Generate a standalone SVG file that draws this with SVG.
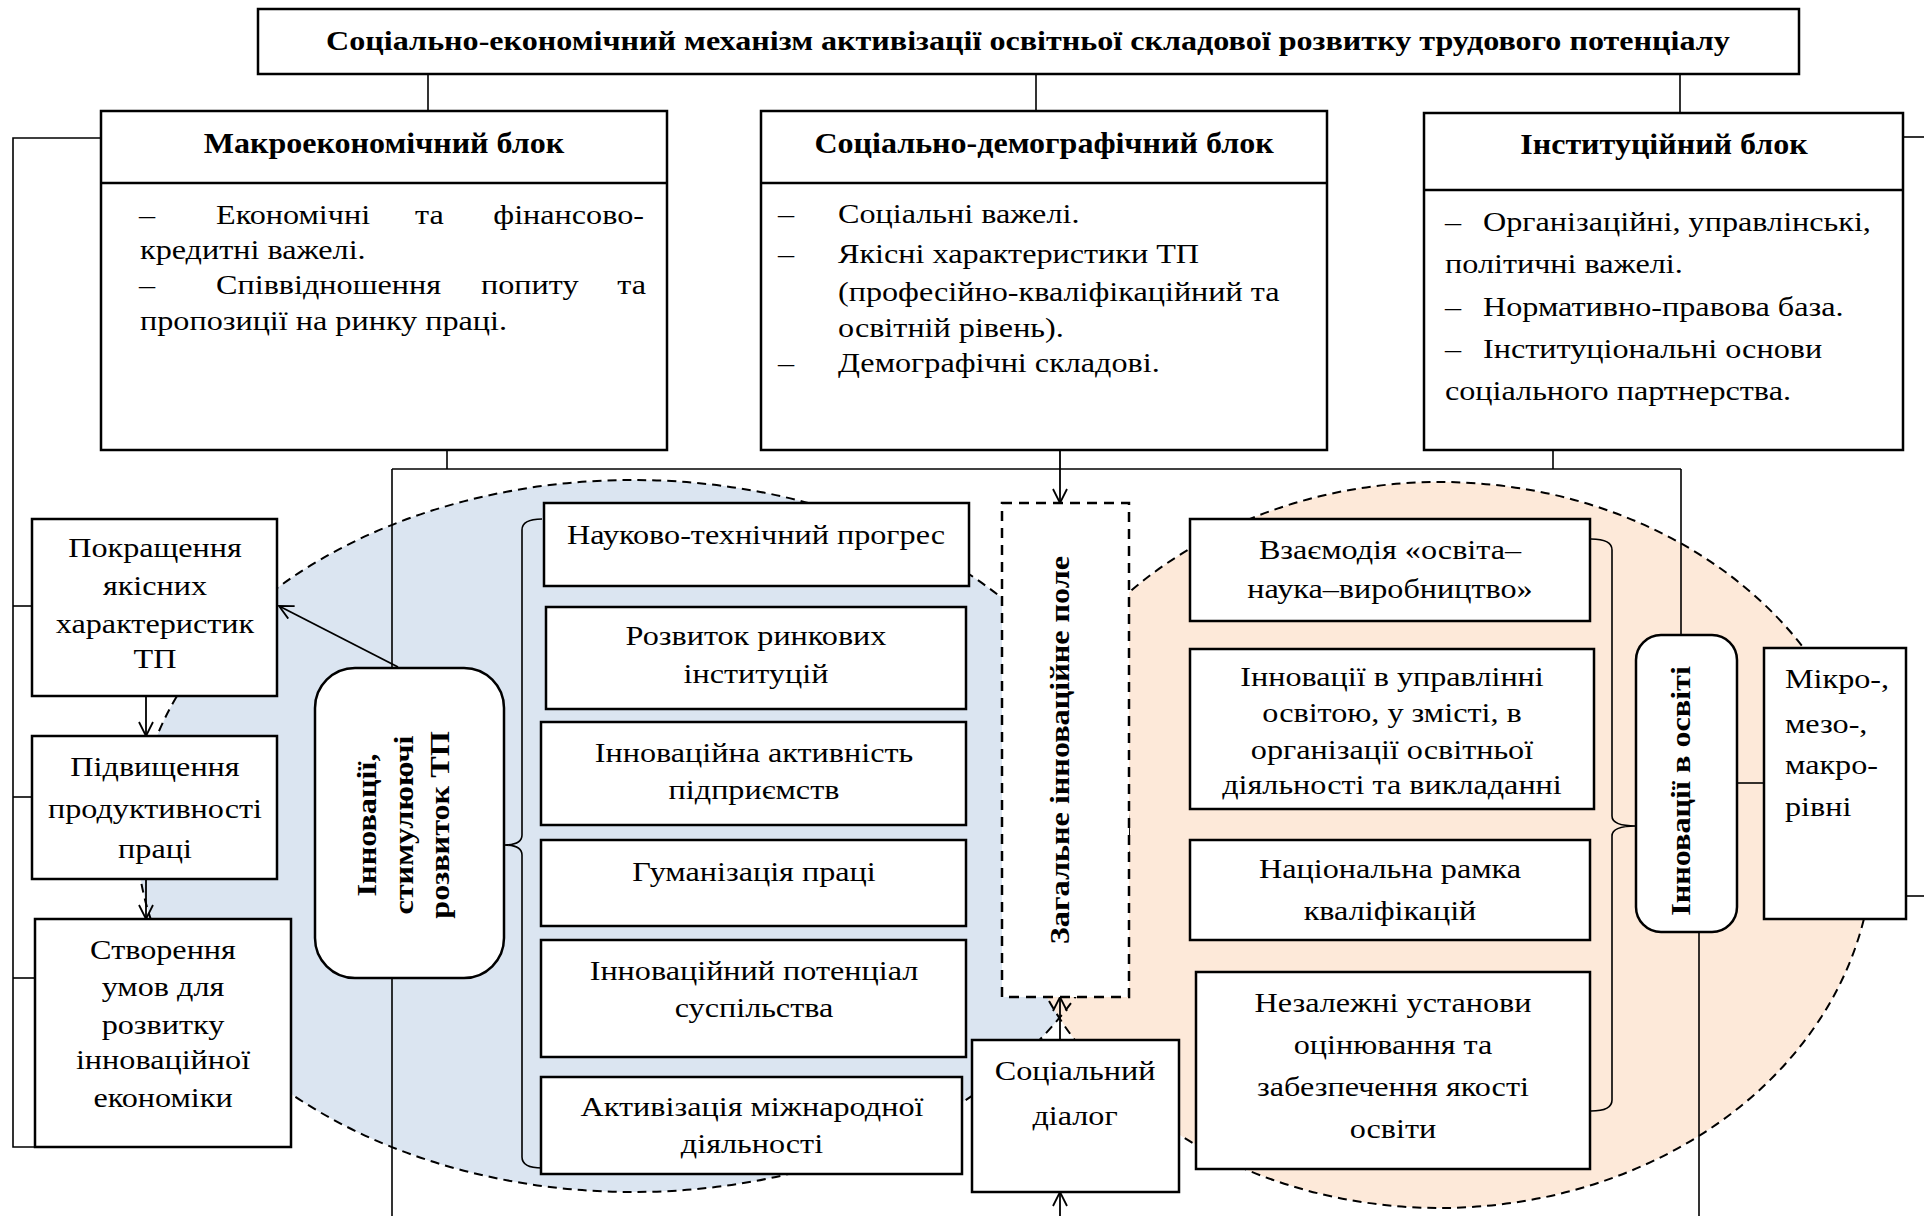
<svg xmlns="http://www.w3.org/2000/svg" width="1924" height="1216" viewBox="0 0 1924 1216">
<style>
.bx{fill:#fff;stroke:#000;stroke-width:2.5}
.ln{stroke:#000;stroke-width:1.6;fill:none}
.ar{stroke:#000;stroke-width:1.8;fill:none;marker-end:url(#ah)}
.t{font-family:'Liberation Serif','Times New Roman',serif;font-size:28px;fill:#000}
.h{font-size:29px;font-weight:bold}
.tt{font-size:27px;font-weight:bold}
.b{font-weight:bold}
.c{text-anchor:middle}
.e{text-anchor:end}
.ell{fill:none;stroke:#000;stroke-width:2;stroke-dasharray:9 6}
</style>
<defs>
<marker id="ah" viewBox="0 0 16 16" refX="15" refY="8" markerWidth="16" markerHeight="16" markerUnits="userSpaceOnUse" orient="auto">
<path d="M1,1 L15,8 L1,15" fill="none" stroke="#000" stroke-width="1.8"/>
</marker>
</defs>
<rect width="1924" height="1216" fill="#fff"/>
<g id="fields">
<ellipse cx="633" cy="836" rx="496" ry="356" fill="#dbe5f1"/>
<ellipse cx="1440" cy="845" rx="433" ry="363" fill="#fde9d9"/>
<ellipse class="ell" cx="633" cy="836" rx="496" ry="356"/>
<ellipse class="ell" cx="1440" cy="845" rx="433" ry="363"/>
</g>
<g id="connectors">
<line class="ln" x1="428" y1="74" x2="428" y2="112"/>
<line class="ln" x1="1036" y1="74" x2="1036" y2="112"/>
<line class="ln" x1="1680" y1="74" x2="1680" y2="113"/>
<line class="ln" x1="1903" y1="137" x2="1924" y2="137"/>
<line class="ln" x1="1906" y1="896" x2="1924" y2="896"/>
<polyline class="ln" points="101,138 13,138 13,1147 35,1147"/>
<line class="ln" x1="13" y1="606" x2="32" y2="606"/>
<line class="ln" x1="13" y1="797" x2="32" y2="797"/>
<line class="ln" x1="13" y1="978" x2="35" y2="978"/>
<line class="ln" x1="447" y1="450" x2="447" y2="469"/>
<line class="ln" x1="1553" y1="450" x2="1553" y2="469"/>
<line class="ln" x1="392" y1="469" x2="1681" y2="469"/>
<line class="ln" x1="392" y1="469" x2="392" y2="668"/>
<line class="ln" x1="392" y1="978" x2="392" y2="1216"/>
<line class="ln" x1="1681" y1="469" x2="1681" y2="635"/>
<line class="ln" x1="1699" y1="932" x2="1699" y2="1216"/>
<line class="ln" x1="1737" y1="783" x2="1764" y2="783"/>
<line class="ar" x1="1060" y1="450" x2="1060" y2="503"/>
<line class="ar" x1="1060" y1="1040" x2="1060" y2="997"/>
<line class="ar" x1="1060" y1="1216" x2="1060" y2="1192"/>
<line class="ar" x1="146" y1="696" x2="146" y2="736"/>
<line class="ar" x1="146" y1="879" x2="146" y2="919"/>
<line class="ar" x1="398" y1="667" x2="279" y2="606"/>
<path class="ln" d="M542,519 Q522,519 522,530 L522,835 Q522,845 504,845 Q522,845 522,855 L522,1157 Q522,1168 542,1168"/>
<path class="ln" d="M1591,539 Q1612,539 1612,550 L1612,816 Q1612,826 1636,826 Q1612,826 1612,836 L1612,1100 Q1612,1111 1591,1111"/>
</g>
<g id="title">
<rect class="bx" x="258" y="9" width="1541" height="65"/>
<text class="t tt c" transform="translate(1028 0) scale(1.19 1)" x="0" y="50">Соціально-економічний механізм активізації освітньої складової розвитку трудового потенціалу</text>
</g>
<g id="macro">
<rect class="bx" x="101" y="111" width="566" height="339"/>
<line class="bx" x1="101" y1="183" x2="667" y2="183"/>
<text class="t h c" transform="translate(384 0) scale(1.105 1)" x="0" y="153">Макроекономічний блок</text>
<text class="t" transform="translate(139 0) scale(1.15 1)" x="0" y="224">–</text>
<text class="t" transform="translate(216 0) scale(1.15 1)" x="0" y="224">Економічні</text>
<text class="t" transform="translate(415 0) scale(1.15 1)" x="0" y="224">та</text>
<text class="t e" transform="translate(644 0) scale(1.15 1)" x="0" y="224">фінансово-</text>
<text class="t" transform="translate(140 0) scale(1.15 1)" x="0" y="259">кредитні важелі.</text>
<text class="t" transform="translate(139 0) scale(1.15 1)" x="0" y="294">–</text>
<text class="t" transform="translate(216 0) scale(1.15 1)" x="0" y="294">Співвідношення</text>
<text class="t" transform="translate(481 0) scale(1.15 1)" x="0" y="294">попиту</text>
<text class="t e" transform="translate(646 0) scale(1.15 1)" x="0" y="294">та</text>
<text class="t" transform="translate(140 0) scale(1.15 1)" x="0" y="330">пропозиції на ринку праці.</text>
</g>
<g id="sociodemo">
<rect class="bx" x="761" y="111" width="566" height="339"/>
<line class="bx" x1="761" y1="183" x2="1327" y2="183"/>
<text class="t h c" transform="translate(1044 0) scale(1.105 1)" x="0" y="153">Соціально-демографічний блок</text>
<text class="t" transform="translate(778 0) scale(1.15 1)"><tspan x="0" y="223">–</tspan><tspan x="0" y="263">–</tspan><tspan x="0" y="372">–</tspan></text>
<text class="t" transform="translate(838 0) scale(1.15 1)"><tspan x="0" y="223">Соціальні важелі.</tspan><tspan x="0" y="263">Якісні характеристики ТП</tspan><tspan x="0" y="301">(професійно-кваліфікаційний та</tspan><tspan x="0" y="337">освітній рівень).</tspan><tspan x="0" y="372">Демографічні складові.</tspan></text>
</g>
<g id="institutional">
<rect class="bx" x="1424" y="113" width="479" height="337"/>
<line class="bx" x1="1424" y1="190" x2="1903" y2="190"/>
<text class="t h c" transform="translate(1664 0) scale(1.105 1)" x="0" y="154">Інституційний блок</text>
<text class="t" transform="translate(1445 0) scale(1.15 1)"><tspan x="0" y="231">–</tspan><tspan x="0" y="273">політичні важелі.</tspan><tspan x="0" y="316">–</tspan><tspan x="0" y="358">–</tspan><tspan x="0" y="400">соціального партнерства.</tspan></text>
<text class="t" transform="translate(1483 0) scale(1.15 1)"><tspan x="0" y="231">Організаційні, управлінські,</tspan><tspan x="0" y="316">Нормативно-правова база.</tspan><tspan x="0" y="358">Інституціональні основи</tspan></text>
</g>
<g id="improve">
<rect class="bx" x="32" y="519" width="245" height="177"/>
<text class="t c" transform="translate(155 0) scale(1.15 1)"><tspan x="0" y="557">Покращення</tspan><tspan x="0" y="595">якісних</tspan><tspan x="0" y="633">характеристик</tspan><tspan x="0" y="668">ТП</tspan></text>
</g>
<g id="productivity">
<rect class="bx" x="32" y="736" width="245" height="143"/>
<text class="t c" transform="translate(155 0) scale(1.15 1)"><tspan x="0" y="776">Підвищення</tspan><tspan x="0" y="818">продуктивності</tspan><tspan x="0" y="858">праці</tspan></text>
</g>
<g id="economy">
<rect class="bx" x="35" y="919" width="256" height="228"/>
<text class="t c" transform="translate(163 0) scale(1.15 1)"><tspan x="0" y="959">Створення</tspan><tspan x="0" y="996">умов для</tspan><tspan x="0" y="1034">розвитку</tspan><tspan x="0" y="1069">інноваційної</tspan><tspan x="0" y="1107">економіки</tspan></text>
</g>
<g id="innov-tp">
<rect class="bx" x="315" y="668" width="189" height="310" rx="40"/>
<text class="t b c" transform="translate(376 825) rotate(-90) scale(1.15 1)" x="0" y="0">Інновації,</text>
<text class="t b c" transform="translate(413 825) rotate(-90) scale(1.15 1)" x="0" y="0">стимулюючі</text>
<text class="t b c" transform="translate(449 825) rotate(-90) scale(1.15 1)" x="0" y="0">розвиток ТП</text>
</g>
<g id="ntp">
<rect class="bx" x="544" y="503" width="425" height="83"/>
<text class="t c" transform="translate(756 0) scale(1.15 1)" x="0" y="544">Науково-технічний прогрес</text>
</g>
<g id="market">
<rect class="bx" x="546" y="607" width="420" height="102"/>
<text class="t c" transform="translate(756 0) scale(1.15 1)"><tspan x="0" y="645">Розвиток ринкових</tspan><tspan x="0" y="683">інституцій</tspan></text>
</g>
<g id="enterprise">
<rect class="bx" x="541" y="722" width="425" height="103"/>
<text class="t c" transform="translate(754 0) scale(1.15 1)"><tspan x="0" y="762">Інноваційна активність</tspan><tspan x="0" y="799">підприємств</tspan></text>
</g>
<g id="human">
<rect class="bx" x="541" y="840" width="425" height="86"/>
<text class="t c" transform="translate(754 0) scale(1.15 1)" x="0" y="881">Гуманізація праці</text>
</g>
<g id="potential">
<rect class="bx" x="541" y="940" width="425" height="117"/>
<text class="t c" transform="translate(754 0) scale(1.15 1)"><tspan x="0" y="980">Інноваційний потенціал</tspan><tspan x="0" y="1017">суспільства</tspan></text>
</g>
<g id="international">
<rect class="bx" x="541" y="1077" width="421" height="97"/>
<text class="t c" transform="translate(752 0) scale(1.15 1)"><tspan x="0" y="1116">Активізація міжнародної</tspan><tspan x="0" y="1153">діяльності</tspan></text>
</g>
<g id="field">
<rect class="bx" x="1002" y="503" width="127" height="494" stroke-dasharray="10 7"/>
<text class="t b c" transform="translate(1069 750) rotate(-90) scale(1.15 1)" x="0" y="0">Загальне інноваційне поле</text>
</g>
<g id="dialog">
<rect class="bx" x="972" y="1040" width="207" height="152"/>
<text class="t c" transform="translate(1075 0) scale(1.15 1)"><tspan x="0" y="1080">Соціальний</tspan><tspan x="0" y="1125">діалог</tspan></text>
</g>
<g id="ens">
<rect class="bx" x="1190" y="519" width="400" height="102"/>
<text class="t c" transform="translate(1390 0) scale(1.15 1)"><tspan x="0" y="559">Взаємодія «освіта–</tspan><tspan x="0" y="598">наука–виробництво»</tspan></text>
</g>
<g id="mgmt">
<rect class="bx" x="1190" y="649" width="404" height="160"/>
<text class="t c" transform="translate(1392 0) scale(1.15 1)"><tspan x="0" y="686">Інновації в управлінні</tspan><tspan x="0" y="722">освітою, у змісті, в</tspan><tspan x="0" y="759">організації освітньої</tspan><tspan x="0" y="794">діяльності та викладанні</tspan></text>
</g>
<g id="nqf">
<rect class="bx" x="1190" y="840" width="400" height="100"/>
<text class="t c" transform="translate(1390 0) scale(1.15 1)"><tspan x="0" y="878">Національна рамка</tspan><tspan x="0" y="920">кваліфікацій</tspan></text>
</g>
<g id="quality">
<rect class="bx" x="1196" y="972" width="394" height="197"/>
<text class="t c" transform="translate(1393 0) scale(1.15 1)"><tspan x="0" y="1012">Незалежні установи</tspan><tspan x="0" y="1054">оцінювання та</tspan><tspan x="0" y="1096">забезпечення якості</tspan><tspan x="0" y="1138">освіти</tspan></text>
</g>
<g id="innov-edu">
<rect class="bx" x="1636" y="635" width="101" height="297" rx="25"/>
<text class="t b c" transform="translate(1690 791) rotate(-90) scale(1.15 1)" x="0" y="0">Інновації в освіті</text>
</g>
<g id="levels">
<rect class="bx" x="1764" y="648" width="142" height="271"/>
<text class="t" transform="translate(1785 0) scale(1.15 1)"><tspan x="0" y="688">Мікро-,</tspan><tspan x="0" y="733">мезо-,</tspan><tspan x="0" y="774">макро-</tspan><tspan x="0" y="816">рівні</tspan></text>
</g>
</svg>
